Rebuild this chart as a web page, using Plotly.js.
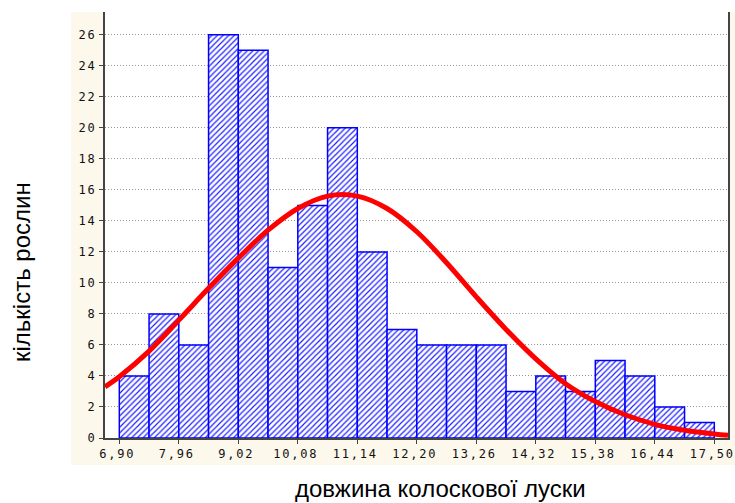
<!DOCTYPE html>
<html>
<head>
<meta charset="utf-8">
<script src="https://cdn.plot.ly/plotly-3.0.1.min.js"></script>
<style>
html,body{margin:0;padding:0;background:#fff;}
#chart{width:735px;height:503px;}
.xtick text,.ytick text{letter-spacing:1.8px;}
</style>
</head>
<body>
<div id="chart"></div>
<script>
// Histogram bins (centres) and counts
const binCenters = [7.165, 7.695, 8.225, 8.755, 9.285, 9.815, 10.345, 10.875, 11.405, 11.935,
                    12.465, 12.995, 13.525, 14.055, 14.585, 15.115, 15.645, 16.175, 16.705, 17.235];
const binWidth = 0.53;
const counts = [4, 8, 6, 26, 25, 11, 15, 20, 12, 7, 6, 6, 6, 3, 4, 3, 5, 4, 2, 1];

// Fitted curve
const curveX = [6.645, 6.90, 7.43, 7.96, 8.49, 9.02, 9.55, 10.08, 10.61, 11.14, 11.67,
                12.20, 12.73, 13.26, 13.79, 14.32, 14.85, 15.38, 15.91, 16.44, 16.97, 17.50, 17.744];
const curveY = [3.3, 3.95, 5.6, 7.6, 9.65, 11.6, 13.4, 14.8, 15.6, 15.6, 14.8,
                13.3, 11.3, 9.1, 7.0, 5.1, 3.5, 2.35, 1.5, 0.88, 0.5, 0.26, 0.17];

// Axis ticks
const xTickVals = [6.90, 7.96, 9.02, 10.08, 11.14, 12.20, 13.26, 14.32, 15.38, 16.44, 17.50];
const xTickText = ["6,90", "7,96", "9,02", "10,08", "11,14", "12,20", "13,26", "14,32", "15,38", "16,44", "17,50"];
const yTickVals = [0, 2, 4, 6, 8, 10, 12, 14, 16, 18, 20, 22, 24, 26];

const xTitle = "довжина колоскової луски";
const yTitle = "кількість рослин";

const traces = [
  {
    type: 'bar',
    x: binCenters,
    y: counts,
    width: binWidth,
    marker: {
      color: '#ffffff',
      line: {color: '#0000ff', width: 1.5},
      pattern: {shape: '/', fgcolor: '#2020ff', bgcolor: '#ffffff', size: 4, solidity: 0.3}
    },
    hoverinfo: 'x+y'
  },
  {
    type: 'scatter',
    mode: 'lines',
    x: curveX,
    y: curveY,
    line: {color: '#ff0000', width: 5, shape: 'spline', smoothing: 1},
    hoverinfo: 'x+y'
  }
];

const tickFont = {family: '"DejaVu Sans Mono", monospace', size: 12, color: '#111'};

const layout = {
  width: 735,
  height: 503,
  margin: {l: 105, r: 7, t: 12, b: 65},
  paper_bgcolor: '#ffffff',
  plot_bgcolor: 'rgba(0,0,0,0)',
  showlegend: false,
  bargap: 0,
  xaxis: {
    range: [6.645, 17.744],
    tickmode: 'array',
    tickvals: xTickVals,
    ticktext: xTickText,
    tickfont: tickFont,
    ticklabeloverflow: 'allow',
    ticklabelshift: -2,
    ticks: 'outside',
    ticklen: 4,
    tickcolor: '#444',
    showgrid: false,
    zeroline: false,
    showline: true,
    linecolor: '#444',
    linewidth: 2,
    mirror: false
  },
  yaxis: {
    range: [0, 27.47],
    tickmode: 'array',
    tickvals: yTickVals,
    tickfont: tickFont,
    ticks: 'outside',
    ticklen: 4,
    tickcolor: '#444',
    showgrid: true,
    gridcolor: '#999999',
    griddash: '1px,2px',
    gridwidth: 1,
    zeroline: false,
    showline: true,
    linecolor: '#444',
    linewidth: 2,
    mirror: true
  },
  shapes: [
    {type: 'rect', xref: 'paper', yref: 'paper', x0: -0.0546, x1: 1.0112, y0: -0.0634, y1: 1,
     fillcolor: '#fdf8ec', line: {width: 0}, layer: 'below'},
    {type: 'rect', xref: 'paper', yref: 'paper', x0: 0, x1: 1, y0: 0, y1: 1,
     fillcolor: '#ffffff', line: {width: 0}, layer: 'below'}
  ],
  annotations: [
    {text: xTitle, xref: 'paper', yref: 'paper', x: 0.539, y: -0.1197, xanchor: 'center', yanchor: 'middle',
     showarrow: false, font: {family: '"Liberation Sans", Arial, sans-serif', size: 24, color: '#000'}},
    {text: yTitle, xref: 'paper', yref: 'paper', x: -0.1332, y: 0.3897, xanchor: 'center', yanchor: 'middle',
     textangle: -90, showarrow: false, font: {family: '"Liberation Sans", Arial, sans-serif', size: 24, color: '#000'}}
  ]
};

Plotly.newPlot('chart', traces, layout, {displayModeBar: false, staticPlot: true});
</script>
</body>
</html>
